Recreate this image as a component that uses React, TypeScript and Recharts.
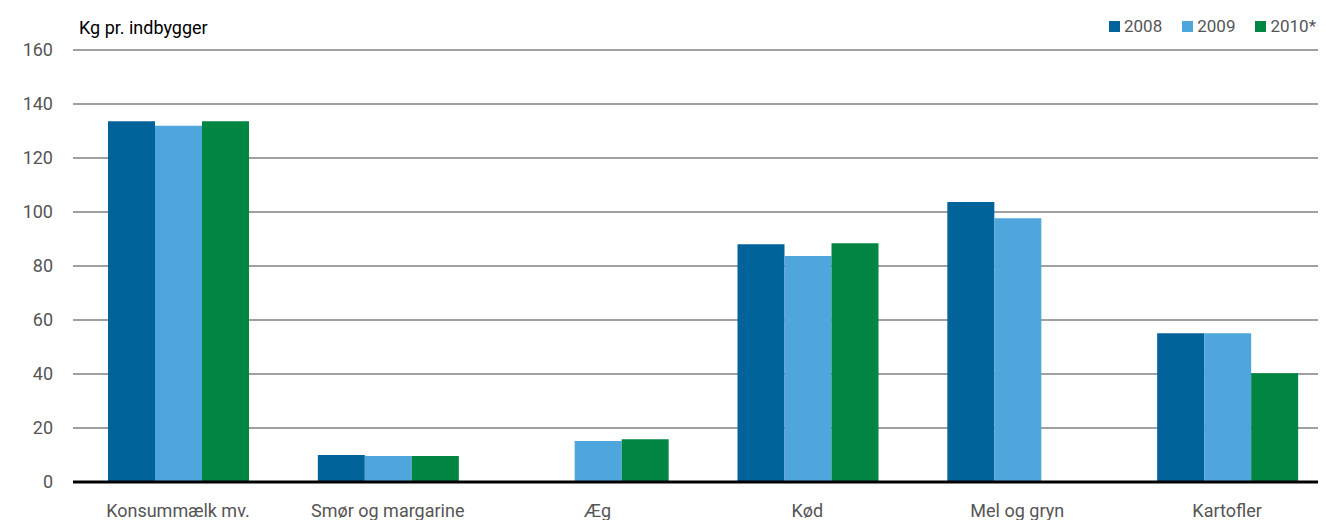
import { BarChart, Bar, XAxis, YAxis, CartesianGrid } from "recharts";

const categories = ["Konsummælk mv.", "Smør og margarine", "Æg", "Kød", "Mel og gryn", "Kartofler"];
const values2008 = [133.6, 10.0, null, 88.1, 103.7, 55.1];
const values2009 = [131.9, 9.6, 15.2, 83.7, 97.7, 55.1];
const values2010 = [133.6, 9.6, 15.8, 88.4, null, 40.3];
const yTicks = [0, 20, 40, 60, 80, 100, 120, 140, 160];

const series = [
  { key: "y2008", name: "2008", color: "#02629a" },
  { key: "y2009", name: "2009", color: "#4ea6dc" },
  { key: "y2010", name: "2010*", color: "#008542" },
];

const data = categories.map((name, i) => ({
  name,
  y2008: values2008[i],
  y2009: values2009[i],
  y2010: values2010[i],
}));

const font = "Roboto, 'Liberation Sans', sans-serif";

const App = () => {
  return (
    <div style={{ position: "relative", width: 1310, height: 512, overflow: "hidden", fontFamily: font }}>
      <div style={{ position: "absolute", left: 71, top: 8, fontSize: 18, color: "#000", lineHeight: "24px" }}>
        Kg pr. indbygger
      </div>
      <div
        style={{
          position: "absolute",
          right: 2,
          top: 6,
          display: "flex",
          fontSize: 17,
          color: "#555",
          lineHeight: "24px",
          whiteSpace: "nowrap",
        }}
      >
        {series.map((s) => (
          <div key={s.key} style={{ display: "flex", alignItems: "center", marginLeft: 20 }}>
            <span style={{ display: "inline-block", width: 11, height: 11, background: s.color, marginRight: 4 }} />
            {s.name}
          </div>
        ))}
      </div>
      <BarChart
        width={1340}
        height={512}
        data={data}
        margin={{ top: 42, right: 16, left: 0, bottom: 0 }}
        barGap={0}
        barCategoryGap={35}
      >
        <CartesianGrid vertical={false} stroke="#a0a0a0" strokeWidth={2} />
        <XAxis
          dataKey="name"
          height={38}
          tickLine={false}
          tickSize={0}
          tickMargin={22}
          axisLine={{ stroke: "#000", strokeWidth: 3 }}
          tick={{ fill: "#555", fontSize: 18, fontFamily: font }}
          interval={0}
        />
        <YAxis
          width={65}
          domain={[0, 160]}
          ticks={yTicks}
          tickLine={false}
          axisLine={false}
          tickSize={0}
          tickMargin={20}
          tick={{ fill: "#555", fontSize: 18, fontFamily: font }}
        />
        {series.map((s) => (
          <Bar key={s.key} dataKey={s.key} name={s.name} fill={s.color} isAnimationActive={false} />
        ))}
      </BarChart>
    </div>
  );
};

export default App;
